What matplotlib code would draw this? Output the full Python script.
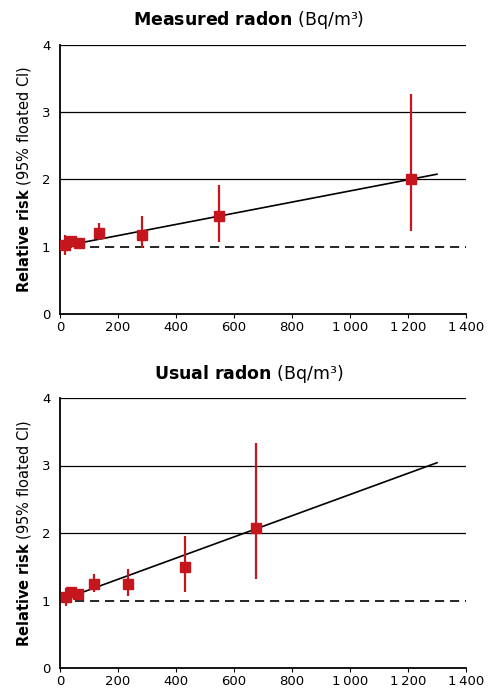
"""Relative risk vs radon concentration, measured and usual."""

import matplotlib.pyplot as plt
import numpy as np
from matplotlib.ticker import FuncFormatter

RED = "#c4161c"

# measured radon (Bq/m3)
measured_x = [17, 38, 65, 136, 282, 549, 1211]
measured_rr = [1.02, 1.08, 1.05, 1.21, 1.18, 1.45, 2.01]
measured_lo = [0.88, 0.98, 0.98, 1.10, 0.98, 1.07, 1.23]
measured_hi = [1.17, 1.16, 1.10, 1.35, 1.45, 1.92, 3.27]
measured_slope = 0.083  # per 100 Bq/m3

# usual radon (Bq/m3)
usual_x = [20, 37, 63, 118, 235, 432, 677]
usual_rr = [1.05, 1.13, 1.10, 1.24, 1.24, 1.49, 2.08]
usual_lo = [0.92, 1.03, 1.05, 1.13, 1.06, 1.12, 1.32]
usual_hi = [1.19, 1.19, 1.14, 1.40, 1.47, 1.96, 3.33]
usual_slope = 0.157

fit_end = 1300
x_ticks = [0, 200, 400, 600, 800, 1000, 1200, 1400]
y_ticks = [0, 1, 2, 3, 4]


def _fmt(v, _pos):
    v = int(v)
    if v >= 1000:
        return f"{v // 1000}\u2009{v % 1000:03d}"
    return str(v)


def _panel(ax, xs, rr, lo, hi, slope):
    for y in [2, 3, 4]:
        ax.axhline(y, color="black", lw=0.9, zorder=1)
    ax.axhline(1, color="black", lw=1.2, ls=(0, (5.5, 3.5)), zorder=1)
    line_x = np.array([0, fit_end])
    ax.plot(line_x, 1 + slope * line_x / 100, color="black", lw=1.2, zorder=2)
    rr = np.array(rr)
    yerr = [rr - np.array(lo), np.array(hi) - rr]
    ax.errorbar(xs, rr, yerr=yerr, fmt="s", color=RED, ms=7.5,
                elinewidth=1.6, capsize=0, zorder=3)
    ax.set_xlim(0, 1400)
    ax.set_ylim(0, 4)
    ax.set_xticks(x_ticks)
    ax.set_yticks(y_ticks)
    ax.xaxis.set_major_formatter(FuncFormatter(_fmt))
    ax.tick_params(axis="x", length=3, width=0.8, labelsize=9.5, pad=2)
    ax.tick_params(axis="y", length=0, labelsize=9.5, pad=7)
    for side in ["top", "right"]:
        ax.spines[side].set_visible(False)
    for side in ["left", "bottom"]:
        ax.spines[side].set_linewidth(1.3)
    ax.set_ylabel(r"$\mathbf{Relative\ risk}$ (95% floated CI)", fontsize=10.5, labelpad=6)


fig = plt.figure(figsize=(4.98, 6.91), dpi=100)
ax1 = fig.add_axes([60 / 498, 1 - 314 / 691, 406 / 498, 269 / 691])
ax2 = fig.add_axes([60 / 498, 1 - 668 / 691, 406 / 498, 270 / 691])

_panel(ax1, measured_x, measured_rr, measured_lo, measured_hi, measured_slope)
_panel(ax2, usual_x, usual_rr, usual_lo, usual_hi, usual_slope)

fig.text(0.5, 1 - 20 / 691, r"$\mathbf{Measured\ radon}$ (Bq/m³)",
         ha="center", va="center", fontsize=12.5)
fig.text(0.5, 1 - 374 / 691, r"$\mathbf{Usual\ radon}$ (Bq/m³)",
         ha="center", va="center", fontsize=12.5)

fig.savefig("out.png", dpi=100)
